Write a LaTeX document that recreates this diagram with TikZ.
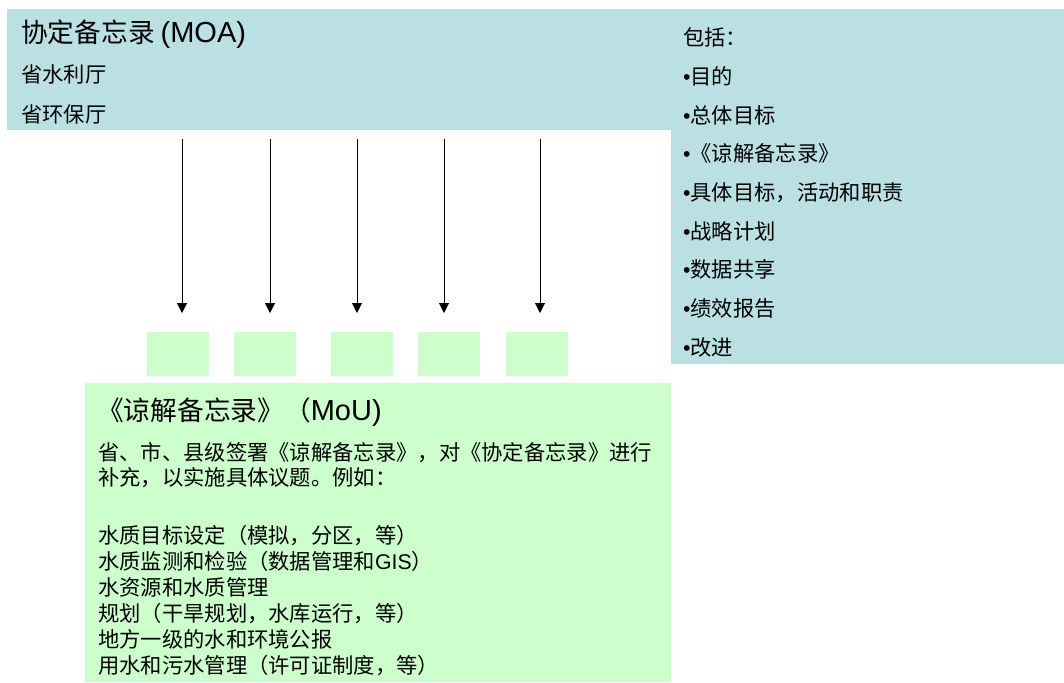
\documentclass[tikz,border=0pt]{standalone}
\usepackage{fontspec}
\setmainfont{Noto Sans CJK SC}
\newfontfamily\lat{Liberation Sans}
\usetikzlibrary{arrows.meta}
\definecolor{tealbg}{RGB}{187,224,227}
\definecolor{greenbg}{RGB}{204,255,204}
\tikzset{
  panel/.style={fill=tealbg, draw=none, inner sep=0pt, anchor=north west},
  gbox/.style={fill=greenbg, draw=none, inner sep=0pt, anchor=north west},
  smallbox/.style={gbox, minimum width=62pt, minimum height=44pt},
  bigtxt/.style={inner sep=0pt, anchor=base west, font=\fontsize{26.7}{30}\selectfont},
  txt/.style={inner sep=0pt, anchor=base west, font=\fontsize{21.3}{25}\selectfont},
  arr/.style={line width=1pt, -{Triangle[length=10pt,width=10pt]}, shorten >=19pt}
}
\newcommand{\biglat}[1]{{\lat\fontsize{29}{30}\selectfont #1}}
\begin{document}
\begin{tikzpicture}[x=1pt,y=-1pt]
\useasboundingbox (0,0) rectangle (1064,682);
% panels
\node[panel, minimum width=664pt, minimum height=121pt] (moa) at (7,9) {};
\node[panel, minimum width=393pt, minimum height=355pt] (incl) at (671,9) {};
\node[gbox, minimum width=586pt, minimum height=299pt] (mou) at (85,383) {};
% small boxes
\node[smallbox] (b1) at (147,332) {};
\node[smallbox] (b2) at (234,332) {};
\node[smallbox] (b3) at (331,332) {};
\node[smallbox] (b4) at (418,332) {};
\node[smallbox] (b5) at (506,332) {};
% arrows
\coordinate (t1) at (182,139);
\coordinate (t2) at (270,139);
\coordinate (t3) at (357,139);
\coordinate (t4) at (444,139);
\coordinate (t5) at (540,139);
\draw[arr] (t1) -- (t1 |- b1.north);
\draw[arr] (t2) -- (t2 |- b2.north);
\draw[arr] (t3) -- (t3 |- b3.north);
\draw[arr] (t4) -- (t4 |- b4.north);
\draw[arr] (t5) -- (t5 |- b5.north);
% MOA texts
\node[bigtxt] (moat) at (21,43) {协定备忘录 \biglat{(MOA)}};
\node[txt] (moa1) at (21,83) {省水利厅};
\node[txt] (moa2) at (21,122) {省环保厅};
% right panel texts
\node[txt] (r1) at (683,46) {包括：};
\node[txt] (r2) at (683,84.6) {{\lat •}目的};
\node[txt] (r3) at (683,123.2) {{\lat •}总体目标};
\node[txt] (r4) at (683,161.8) {{\lat •}《谅解备忘录》};
\node[txt] (r5) at (683,200.4) {{\lat •}具体目标，活动和职责};
\node[txt] (r6) at (683,239) {{\lat •}战略计划};
\node[txt] (r7) at (683,277.6) {{\lat •}数据共享};
\node[txt] (r8) at (683,316.2) {{\lat •}绩效报告};
\node[txt] (r9) at (683,355) {{\lat •}改进};
% MoU texts
\node[bigtxt] (mout) at (97,420) {《谅解备忘录》（\biglat{MoU)}};
\node[txt] (p1) at (98,460) {省、市、县级签署《谅解备忘录》，对《协定备忘录》进行};
\node[txt] (p2) at (98,485) {补充，以实施具体议题。例如：};
\node[txt] (i1) at (98,543) {水质目标设定（模拟，分区，等）};
\node[txt] (i2) at (98,569) {水质监测和检验（数据管理和{\lat GIS}）};
\node[txt] (i3) at (98,595) {水资源和水质管理};
\node[txt] (i4) at (98,621) {规划（干旱规划，水库运行，等）};
\node[txt] (i5) at (98,647) {地方一级的水和环境公报};
\node[txt] (i6) at (98,673) {用水和污水管理（许可证制度，等）};
\end{tikzpicture}
\end{document}
